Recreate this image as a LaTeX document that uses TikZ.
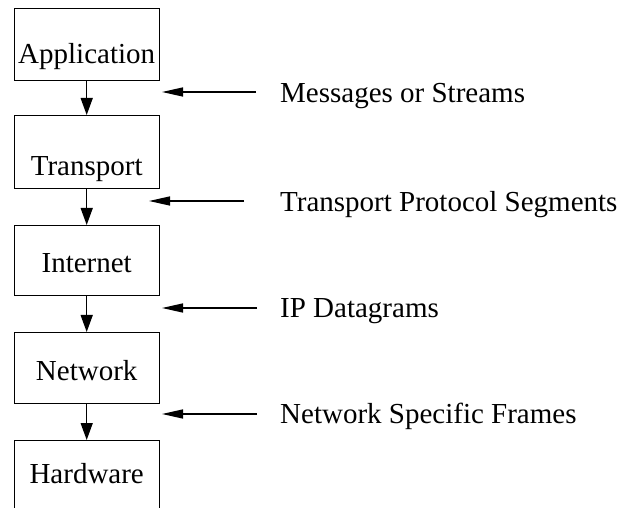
\documentclass[tikz,border=0pt]{standalone}
\usepackage{fontspec}
\setmainfont{Liberation Serif}
\usetikzlibrary{arrows.meta}
\begin{document}
\begin{tikzpicture}[x=1pt,y=-1pt,
  layer/.style={draw, line width=1.4pt, minimum width=145pt, inner sep=0pt,
    anchor=north west, font=\fontsize{29}{34}\selectfont},
  down/.style={-{Triangle[length=17pt,width=12pt]}, line width=1.4pt},
  side/.style={-{Triangle[length=21pt,width=9pt]}, line width=1.4pt},
  caption/.style={anchor=base west, inner sep=0pt, font=\fontsize{29}{34}\selectfont}]
\clip (0,0) rectangle (625,508);
\useasboundingbox (0,0) rectangle (625,508);

% protocol layers
\node[layer, text height=55pt, text depth=17pt] (app)   at (13.5,8)   {Application};
\node[layer, text height=60pt, text depth=13pt] (trans) at (13.5,115) {Transport};
\node[layer, text height=47pt, text depth=23pt] (inet)  at (13.5,225) {Internet};
\node[layer, text height=48pt, text depth=23pt] (net)   at (13.5,332) {Network};
\node[layer, text height=43pt, text depth=26pt] (hw)    at (13.5,440) {Hardware};

% data passed down the stack
\draw[down] (app.south)   -- (trans.north);
\draw[down] (trans.south) -- (inet.north);
\draw[down] (inet.south)  -- (net.north);
\draw[down] (net.south)   -- (hw.north);

% what travels between adjacent layers
\node[caption] (c1) at (280,103) {Messages or Streams};
\node[caption] (c2) at (280,212) {Transport Protocol Segments};
\node[caption] (c3) at (280,318) {IP Datagrams};
\node[caption] (c4) at (280,424) {Network Specific Frames};

\coordinate (t1) at (256,92);  \coordinate (h1) at (162,92);
\coordinate (t2) at (244,201); \coordinate (h2) at (149,201);
\coordinate (t3) at (257,308); \coordinate (h3) at (162,308);
\coordinate (t4) at (257,414); \coordinate (h4) at (162,414);
\draw[side] (t1) -- (h1);
\draw[side] (t2) -- (h2);
\draw[side] (t3) -- (h3);
\draw[side] (t4) -- (h4);
\end{tikzpicture}
\end{document}
